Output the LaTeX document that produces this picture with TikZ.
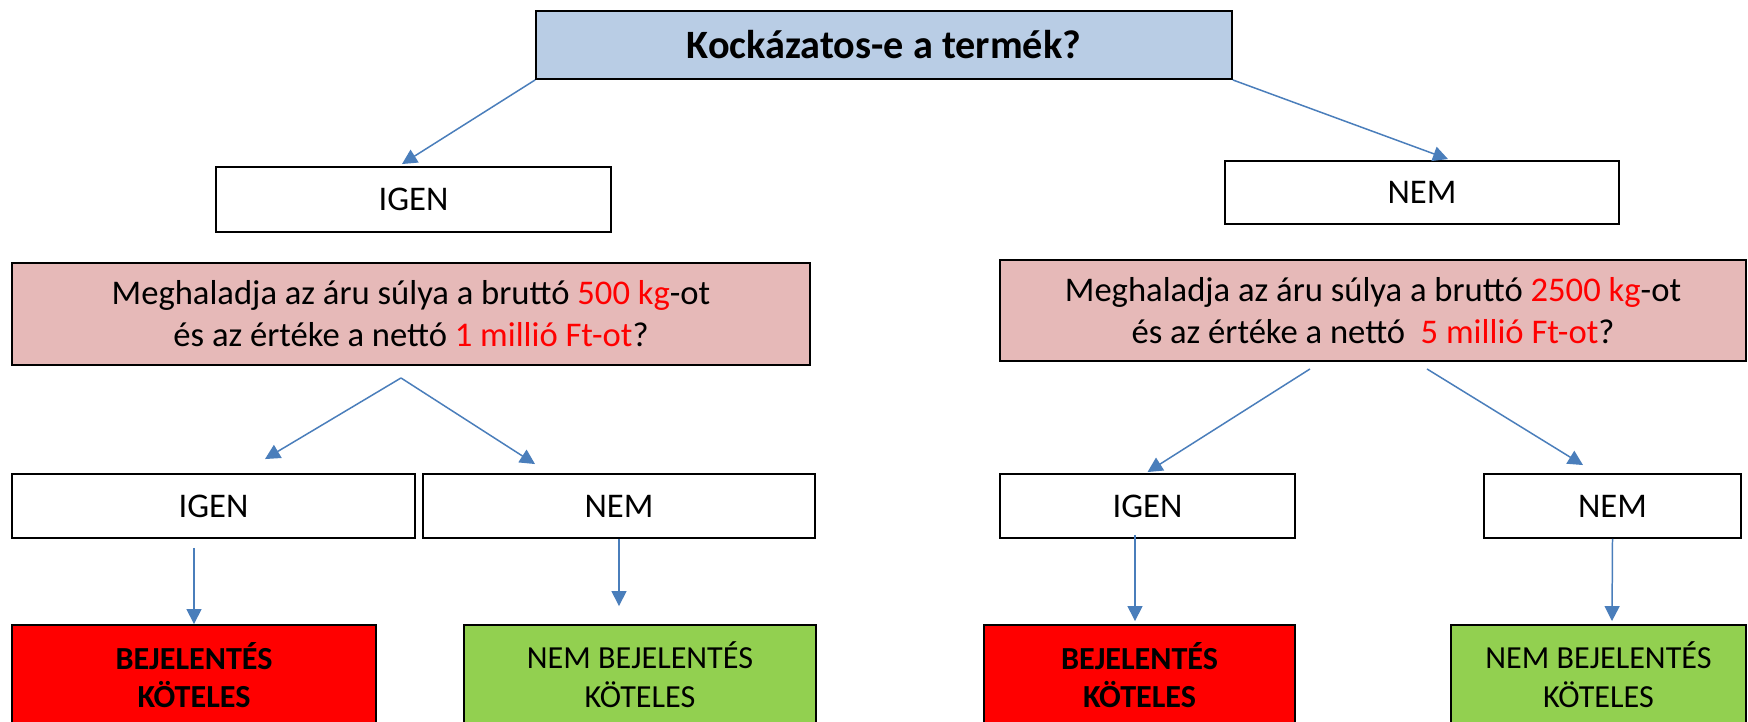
\documentclass[tikz,border=0pt]{standalone}
\usepackage{fontspec}
\setmainfont{Carlito}
\usetikzlibrary{arrows.meta,calc}
\definecolor{qblue}{HTML}{B9CDE5}
\definecolor{qpink}{HTML}{E6B9B8}
\definecolor{qgreen}{HTML}{92D050}
\definecolor{qarrow}{HTML}{4A7EBB}
\tikzset{
  box/.style={draw=black, line width=1.1pt, inner sep=0pt, align=center,
    font=\fontsize{19.7}{24}\selectfont},
  endbox/.style={box, minimum height=2cm, font=\fontsize{18.3}{22}\selectfont},
  arr/.style={draw=qarrow, line width=0.85pt, -{Triangle[length=8.5pt,width=8.5pt]}},
}
\begin{document}
\begin{tikzpicture}[x=0.02cm, y=-0.02cm]
  \clip (0,0) rectangle (1748,721);
  \fill[white] (0,0) rectangle (1748,721);

  % Question on top
  \node[box, fill=qblue, minimum width=13.92cm, minimum height=1.36cm,
    font=\fontsize{22.9}{27}\selectfont\bfseries] (top) at (884,45) {Kockázatos-e a termék?};

  % First answers
  \node[box, minimum width=7.9cm, minimum height=1.3cm] (igenA) at (413.5,199.5) {IGEN};
  \node[box, minimum width=7.88cm, minimum height=1.26cm] (nemA) at (1422,192.5) {NEM};

  % Weight and value questions
  \node[box, fill=qpink, minimum width=15.96cm, minimum height=2.04cm] (askL) at (411,314)
    {Meghaladja az áru súlya a bruttó \textcolor{red}{500 kg}-ot\\
     és az értéke a nettó \textcolor{red}{1 millió Ft-ot}?};
  \node[box, fill=qpink, minimum width=14.92cm, minimum height=2.02cm] (askR) at (1373,310.5)
    {Meghaladja az áru súlya a bruttó \textcolor{red}{2500 kg}-ot\\
     és az értéke a nettó \ \textcolor{red}{5 millió Ft-ot}?};

  % Second answers
  \node[box, minimum width=8.06cm, minimum height=1.28cm] (igenB) at (213.5,506) {IGEN};
  \node[box, minimum width=7.84cm, minimum height=1.28cm] (nemB) at (619,506) {NEM};
  \node[box, minimum width=5.9cm, minimum height=1.28cm] (igenC) at (1147.5,506) {IGEN};
  \node[box, minimum width=5.14cm, minimum height=1.28cm] (nemC) at (1612.5,506) {NEM};

  % Results
  \node[endbox, fill=red, minimum width=7.28cm, font=\fontsize{18.3}{22}\selectfont\bfseries]
    (resA) at (194,675) {BEJELENTÉS\\KÖTELES};
  \node[endbox, fill=qgreen, minimum width=7.04cm] (resB) at (640,675) {NEM BEJELENTÉS\\KÖTELES};
  \node[endbox, fill=red, minimum width=6.22cm, font=\fontsize{18.3}{22}\selectfont\bfseries]
    (resC) at (1139.5,675) {BEJELENTÉS\\KÖTELES};
  \node[endbox, fill=qgreen, minimum width=5.9cm] (resD) at (1598.5,675) {NEM BEJELENTÉS\\KÖTELES};

  % Arrows
  \draw[arr] (top.south west) -- ($(igenA.north)+(-11.5,-2)$);
  \draw[arr] (top.south east) -- ($(nemA.north)+(26,-1)$);
  \draw[arr] ($(askL.south)+(-10,12)$) -- ($(igenB.north)+(51.5,-14)$);
  \draw[arr] ($(askL.south)+(-10,12)$) -- ($(nemB.north)+(-84,-9)$);
  \draw[arr] ($(askR.south)+(-63,7)$) -- ($(igenC.north)+(0,-1)$);
  \draw[arr] ($(askR.south)+(54,7)$) -- ($(nemC.north)+(-29.5,-8)$);
  \draw[arr] ($(igenB.south)+(-19.5,9)$) -- (resA.north);
  \draw[arr] (nemB.south) -- ($(resB.north)+(-21,-18)$);
  \draw[arr] ($(igenC.south)+(-12.5,-4)$) -- ($(resC.north)+(-4.5,-3)$);
  \draw[arr] (nemC.south) -- ($(resD.north)+(13.5,-3)$);
\end{tikzpicture}
\end{document}
